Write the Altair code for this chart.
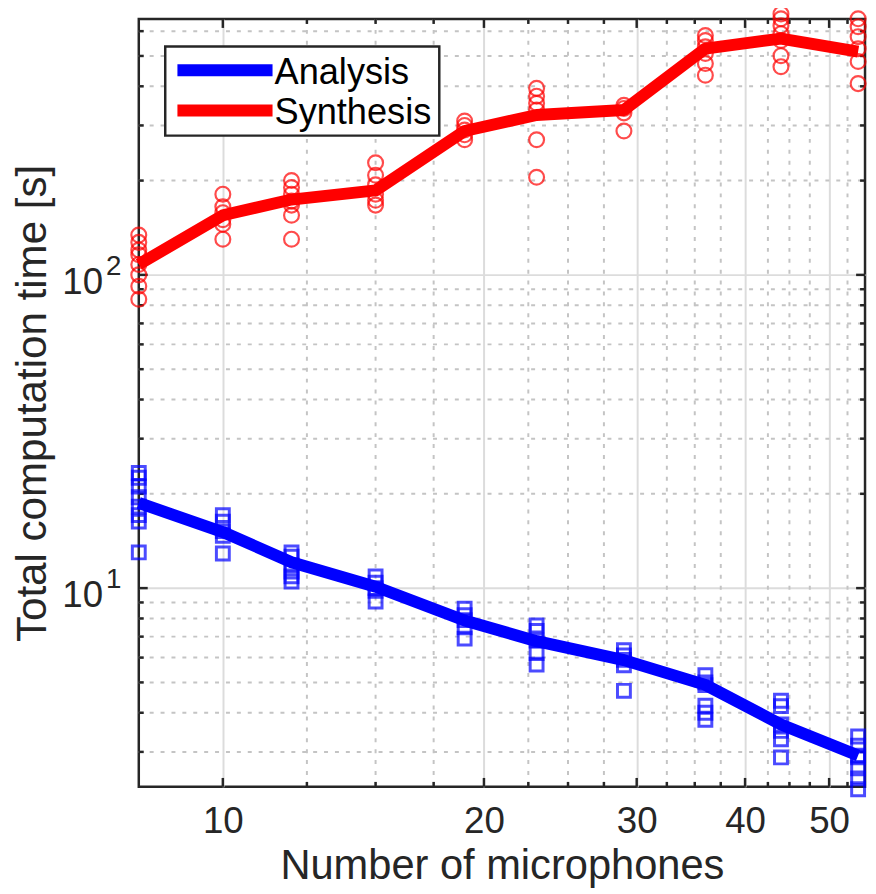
import altair as alt
import pandas as pd

# ---------------- data ----------------
mics = [8, 10, 12, 15, 19, 23, 29, 36, 44, 54]
series_names = ["Analysis", "Synthesis"]
series_colors = ["#0000FF", "#FF0000"]

analysis_line = [18.7, 15.1, 12.1, 10.1, 7.88, 6.77, 5.89, 4.91, 3.67, 2.92]
synthesis_line = [108, 155, 174, 186, 288, 324, 336, 528, 568, 516]

analysis_runs = [
    [23.3, 22.5, 21.1, 19.5, 18.2, 17.1, 16.3, 13.0],
    [17.1, 16.3, 15.2, 14.7, 12.9],
    [13.0, 12.6, 11.8, 11.3, 10.9, 10.5],
    [10.9, 10.4, 10.0, 9.8, 9.06],
    [8.6, 8.2, 7.9, 7.5, 6.9],
    [7.6, 7.3, 6.8, 6.2, 5.7],
    [6.34, 6.1, 5.9, 5.67, 4.7],
    [5.27, 5.0, 4.9, 4.21, 4.0, 3.8],
    [4.37, 4.2, 3.67, 3.5, 3.29, 2.88],
    [3.36, 3.14, 2.92, 2.88, 2.66, 2.47, 2.28],
]
synthesis_runs = [
    [134, 127, 120, 116, 108, 100, 92, 83.6],
    [181, 165, 158, 150, 145, 130],
    [200, 190, 181, 172, 167, 155, 130],
    [228, 208, 194, 181, 173, 167],
    [310, 300, 290, 280, 270],
    [394, 372, 353, 336, 270, 205],
    [348, 340, 329, 288],
    [581, 560, 535, 509, 473, 434],
    [681, 657, 624, 589, 560, 501, 462],
    [657, 620, 576, 527, 480, 408],
]

x_major = [10, 20, 30, 40, 50]
x_minor = [12.5, 15, 17.5, 22.5, 25, 27.5, 32.5, 35, 37.5, 42.5, 45, 47.5, 52.5]
y_major = [10, 100]
y_major_base = ["10", "10"]
y_major_exp = ["1", "2"]
y_minor = [3, 4, 5, 6, 7, 8, 9, 20, 30, 40, 50, 60, 70, 80, 90, 200, 300, 400, 500, 600]
x_domain = [8, 55]
y_domain = [2.32, 656]

x_title = "Number of microphones"
y_title = "Total computation time [s]"

# ---------------- tables ----------------
line_df = pd.DataFrame({
    "mics": mics * 2,
    "time": analysis_line + synthesis_line,
    "series": [series_names[0]] * len(mics) + [series_names[1]] * len(mics),
})


def runs_table(runs, name):
    rows = []
    for m, vals in zip(mics, runs):
        for v in vals:
            rows.append({"mics": m, "time": v, "series": name})
    return pd.DataFrame(rows)


ana_pts = runs_table(analysis_runs, series_names[0])
syn_pts = runs_table(synthesis_runs, series_names[1])

xmaj_df = pd.DataFrame({"mics": x_major})
xmin_df = pd.DataFrame({"mics": x_minor})
ymaj_df = pd.DataFrame({"time": y_major, "base": y_major_base, "exp": y_major_exp})
ymin_df = pd.DataFrame({"time": y_minor})
one = pd.DataFrame({"k": [0]})

# ---------------- geometry / style ----------------
W, H = 733, 775
FONT = "Liberation Sans"
TXT = "#262626"
AXC = "#262626"
xs = alt.Scale(type="log", domain=x_domain, nice=False)
ys = alt.Scale(type="log", domain=y_domain, nice=False)
cscale = alt.Scale(domain=series_names, range=series_colors)

x_axis = alt.Axis(
    values=x_major, grid=True, gridColor="#dcdcdc", gridWidth=2,
    ticks=False, domain=False, labelFont=FONT, labelFontSize=37,
    labelColor=TXT, labelPadding=17, title=x_title, titleFont=FONT,
    titleFontSize=42, titleFontWeight="normal", titleColor=TXT,
    titleX=W / 2, titleY=92, titleAlign="center", titleBaseline="alphabetic",
)
y_axis = alt.Axis(
    values=y_major, grid=True, gridColor="#dcdcdc", gridWidth=2,
    ticks=False, domain=False, labels=False,
    title=y_title, titleFont=FONT, titleFontSize=42.5, titleFontWeight="normal",
    titleColor=TXT, titleAngle=-90, titleX=-94, titleY=H / 2,
    titleAlign="center", titleBaseline="alphabetic",
)


def X():
    return alt.X("mics:Q", scale=xs, axis=x_axis)


def Y():
    return alt.Y("time:Q", scale=ys, axis=y_axis)


# minor dotted grid
minor_vx = alt.Chart(xmin_df).mark_rule(color="#c4c4c4", strokeWidth=2, strokeDash=[4, 7]).encode(
    x=X(), y=alt.value(0), y2=alt.value(H))
minor_hy = alt.Chart(ymin_df).mark_rule(color="#c4c4c4", strokeWidth=2, strokeDash=[4, 7]).encode(
    y=Y(), x=alt.value(0), x2=alt.value(W))


def xticks(df, length):
    bottom = alt.Chart(df).mark_rule(color=AXC, strokeWidth=2.5).encode(
        x=X(), y=alt.value(H), y2=alt.value(H - length))
    top = alt.Chart(df).mark_rule(color=AXC, strokeWidth=2.5).encode(
        x=X(), y=alt.value(0), y2=alt.value(length))
    return [bottom, top]


def yticks(df, length):
    left = alt.Chart(df).mark_rule(color=AXC, strokeWidth=2.5).encode(
        y=Y(), x=alt.value(0), x2=alt.value(length))
    right = alt.Chart(df).mark_rule(color=AXC, strokeWidth=2.5).encode(
        y=Y(), x=alt.value(W), x2=alt.value(W - length))
    return [left, right]


ticks = xticks(xmaj_df, 9) + xticks(xmin_df, 5) + yticks(ymaj_df[["time"]], 9) + yticks(ymin_df, 5)

# y tick labels as 10 with a superscript exponent
ylab_base = alt.Chart(ymaj_df).mark_text(
    font=FONT, fontSize=37, color=TXT, align="right", baseline="alphabetic", dy=19).encode(
    y=Y(), x=alt.value(-36), text="base:N")
ylab_exp = alt.Chart(ymaj_df).mark_text(
    font=FONT, fontSize=28, color=TXT, align="left", baseline="alphabetic", dy=0).encode(
    y=Y(), x=alt.value(-33), text="exp:N")

# data marks
squares = alt.Chart(ana_pts).mark_point(shape="square", filled=False, size=169, strokeWidth=3).encode(
    x=X(), y=Y(),
    color=alt.Color("series:N", scale=cscale, legend=None),
)
circles = alt.Chart(syn_pts).mark_point(shape="circle", filled=False, size=225, strokeWidth=2.2).encode(
    x=X(), y=Y(),
    color=alt.Color("series:N", scale=cscale, legend=None),
)
lines = alt.Chart(line_df).mark_line(strokeWidth=12, strokeJoin="round").encode(
    x=X(), y=Y(),
    color=alt.Color("series:N", scale=cscale, legend=None),
    detail="series:N",
)

# legend box (decoration)
leg_box = alt.Chart(one).mark_rect(fill="white", stroke=AXC, strokeWidth=2.5).encode(
    x=alt.value(26.7), x2=alt.value(303.3), y=alt.value(27.7), y2=alt.value(117.7))
leg_layers = [leg_box]
for i, (name, col) in enumerate(zip(series_names, series_colors)):
    yc = 51.7 + i * 40.6
    leg_layers.append(alt.Chart(one).mark_rule(color=col, strokeWidth=12).encode(
        x=alt.value(39), x2=alt.value(135), y=alt.value(yc)))
    leg_layers.append(alt.Chart(one).mark_text(
        text=name, font=FONT, fontSize=36.5, color="black", align="left", baseline="alphabetic").encode(
        x=alt.value(137), y=alt.value(yc + 13.5)))

chart = alt.layer(
    minor_vx, minor_hy, *ticks, ylab_base, ylab_exp, squares, circles, lines, *leg_layers,
).properties(
    width=W, height=H,
    autosize=alt.AutoSizeParams(type="none"),
    padding={"left": 132, "top": 7, "right": 3, "bottom": 101},
).configure_view(
    stroke=AXC, strokeWidth=2.5, fill="white"
)

chart.save("out.html", embed_options={"renderer": "svg", "actions": False})
